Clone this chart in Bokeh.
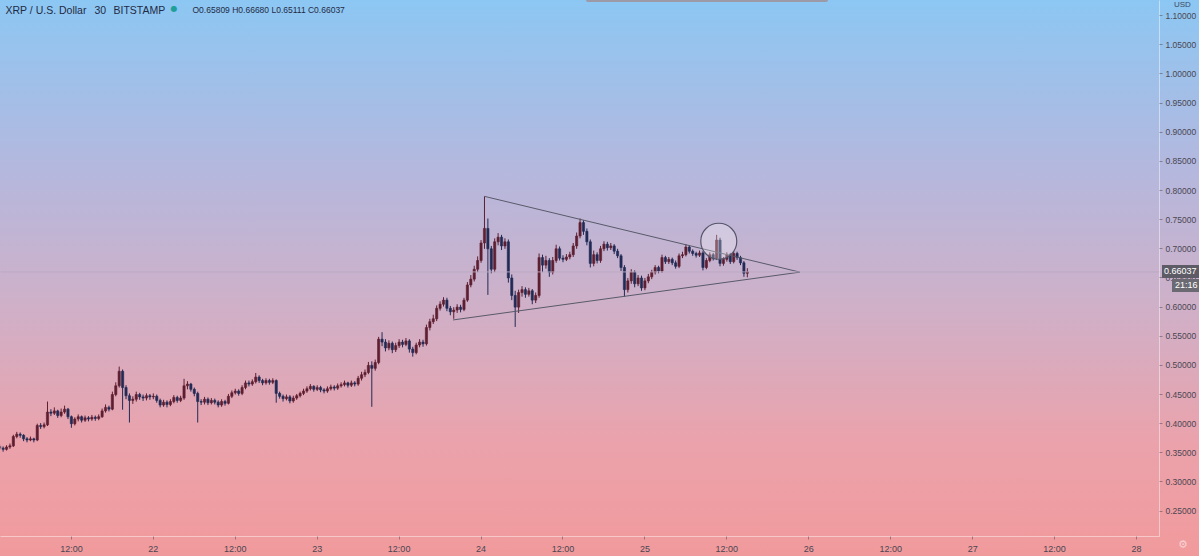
import pandas as pd
from bokeh.plotting import figure
from bokeh.models import (Range1d, FixedTicker, NumeralTickFormatter, Label, Span,
                          ColumnDataSource, GlobalInlineStyleSheet, Div)
from bokeh.embed import file_html
from bokeh.resources import INLINE

# ---------------- data (XRP/USD, Bitstamp, 30-minute bars) ----------------
first_bar = "2020-11-21 01:30"
first_open = 0.361
closes = [0.358,0.356,0.360,0.362,0.378,0.382,0.380,0.374,0.372,0.374,
          0.372,0.397,0.395,0.398,0.420,0.418,0.422,0.414,0.420,0.425,
          0.412,0.400,0.408,0.412,0.406,0.410,0.408,0.411,0.409,0.412,
          0.422,0.428,0.425,0.450,0.465,0.490,0.462,0.448,0.440,0.442,
          0.450,0.446,0.444,0.448,0.446,0.447,0.440,0.432,0.437,0.433,
          0.438,0.445,0.440,0.444,0.465,0.468,0.459,0.452,0.438,0.437,
          0.442,0.436,0.440,0.437,0.432,0.438,0.435,0.447,0.453,0.456,
          0.452,0.462,0.470,0.468,0.472,0.480,0.474,0.470,0.474,0.471,
          0.474,0.452,0.447,0.443,0.446,0.439,0.444,0.448,0.452,0.456,
          0.460,0.464,0.459,0.462,0.458,0.456,0.460,0.463,0.461,0.465,
          0.467,0.470,0.466,0.470,0.468,0.478,0.484,0.488,0.500,0.495,
          0.505,0.545,0.540,0.530,0.538,0.527,0.534,0.540,0.536,0.542,
          0.528,0.522,0.535,0.540,0.537,0.565,0.575,0.580,0.598,0.605,
          0.612,0.598,0.592,0.595,0.600,0.596,0.612,0.638,0.648,0.665,
          0.680,0.710,0.735,0.700,0.665,0.712,0.720,0.705,0.712,0.650,
          0.620,0.600,0.625,0.630,0.622,0.628,0.612,0.620,0.685,0.672,
          0.680,0.660,0.680,0.700,0.684,0.682,0.686,0.690,0.705,0.722,
          0.745,0.730,0.712,0.675,0.690,0.680,0.700,0.708,0.702,0.705,
          0.696,0.688,0.668,0.630,0.645,0.660,0.640,0.650,0.633,0.645,
          0.652,0.660,0.668,0.662,0.685,0.678,0.682,0.676,0.670,0.688,
          0.690,0.703,0.696,0.692,0.689,0.693,0.668,0.680,0.690,0.684,
          0.715,0.675,0.682,0.690,0.678,0.692,0.685,0.676,0.65809,0.66037]
highs = [0.364,0.361,0.363,0.366,0.381,0.386,0.385,0.382,0.377,0.378,
         0.376,0.400,0.401,0.402,0.438,0.425,0.428,0.424,0.426,0.431,
         0.427,0.414,0.411,0.416,0.414,0.414,0.413,0.415,0.414,0.416,
         0.426,0.433,0.431,0.455,0.471,0.498,0.493,0.466,0.452,0.447,
         0.455,0.453,0.450,0.452,0.451,0.452,0.450,0.443,0.441,0.440,
         0.442,0.449,0.448,0.448,0.477,0.473,0.470,0.462,0.455,0.442,
         0.446,0.445,0.444,0.443,0.440,0.442,0.441,0.451,0.457,0.460,
         0.459,0.466,0.474,0.474,0.476,0.487,0.483,0.477,0.478,0.477,
         0.478,0.476,0.455,0.450,0.450,0.449,0.448,0.451,0.455,0.460,
         0.464,0.468,0.466,0.466,0.465,0.461,0.464,0.467,0.466,0.469,
         0.471,0.474,0.472,0.474,0.473,0.482,0.489,0.493,0.506,0.507,
         0.510,0.549,0.557,0.545,0.543,0.541,0.539,0.545,0.544,0.547,
         0.545,0.532,0.539,0.545,0.544,0.570,0.580,0.587,0.603,0.610,
         0.617,0.616,0.602,0.600,0.605,0.604,0.616,0.643,0.655,0.671,
         0.687,0.715,0.790,0.752,0.705,0.718,0.727,0.724,0.718,0.716,
         0.656,0.628,0.630,0.636,0.634,0.633,0.631,0.625,0.692,0.690,
         0.688,0.684,0.686,0.707,0.704,0.689,0.691,0.695,0.710,0.728,
         0.752,0.749,0.735,0.716,0.697,0.694,0.705,0.713,0.712,0.710,
         0.708,0.700,0.691,0.672,0.650,0.665,0.663,0.655,0.654,0.650,
         0.657,0.664,0.672,0.671,0.690,0.688,0.686,0.685,0.680,0.692,
         0.695,0.708,0.706,0.699,0.695,0.697,0.696,0.684,0.694,0.693,
         0.724,0.719,0.686,0.694,0.693,0.696,0.695,0.688,0.679,0.6668]
lows = [0.355,0.352,0.354,0.357,0.360,0.375,0.376,0.370,0.368,0.370,
        0.368,0.370,0.391,0.392,0.396,0.413,0.415,0.410,0.411,0.417,
        0.408,0.393,0.397,0.404,0.402,0.403,0.404,0.405,0.405,0.406,
        0.410,0.419,0.421,0.423,0.447,0.462,0.424,0.442,0.402,0.434,
        0.438,0.441,0.439,0.440,0.441,0.442,0.436,0.428,0.429,0.428,
        0.430,0.435,0.436,0.437,0.441,0.459,0.455,0.447,0.402,0.432,
        0.433,0.432,0.433,0.433,0.428,0.429,0.431,0.433,0.444,0.450,
        0.448,0.449,0.459,0.464,0.465,0.469,0.470,0.466,0.467,0.467,
        0.468,0.436,0.443,0.438,0.440,0.435,0.436,0.441,0.445,0.449,
        0.453,0.457,0.455,0.456,0.454,0.452,0.453,0.457,0.457,0.458,
        0.462,0.464,0.462,0.463,0.464,0.465,0.474,0.480,0.485,0.429,
        0.491,0.502,0.533,0.524,0.526,0.521,0.523,0.530,0.531,0.533,
        0.522,0.515,0.519,0.531,0.532,0.534,0.560,0.571,0.576,0.594,
        0.601,0.593,0.586,0.580,0.590,0.591,0.593,0.609,0.634,0.644,
        0.660,0.676,0.700,0.621,0.658,0.660,0.706,0.698,0.700,0.642,
        0.612,0.566,0.590,0.618,0.616,0.618,0.605,0.607,0.616,0.660,
        0.666,0.652,0.656,0.676,0.680,0.677,0.679,0.682,0.686,0.700,
        0.718,0.724,0.706,0.668,0.670,0.675,0.676,0.696,0.697,0.698,
        0.691,0.684,0.662,0.618,0.625,0.640,0.634,0.636,0.628,0.629,
        0.641,0.648,0.656,0.658,0.659,0.674,0.674,0.672,0.666,0.667,
        0.684,0.687,0.692,0.688,0.685,0.686,0.663,0.665,0.677,0.680,
        0.681,0.670,0.671,0.678,0.674,0.675,0.681,0.672,0.652,0.65111]

last_price = 0.66037
countdown = "21:16"
ohlc_text = "O0.65809 H0.66680 L0.65111 C0.66037"

# drawn triangle (trend lines) and highlight circle
upper_line_t = ["2020-11-24 00:30", "2020-11-25 22:42"]
upper_line_p = [0.790, 0.660]
lower_line_t = ["2020-11-23 19:54", "2020-11-25 22:42"]
lower_line_p = [0.578, 0.660]
circle_t = ["2020-11-25 10:49"]
circle_p = [0.713]

price_ticks = [0.25, 0.30, 0.35, 0.40, 0.45, 0.50, 0.55, 0.60, 0.65, 0.70,
               0.75, 0.80, 0.85, 0.90, 0.95, 1.00, 1.05, 1.10]
time_tick_labels = ["12:00", "22", "12:00", "23", "12:00", "24", "12:00",
                    "25", "12:00", "26", "12:00", "27", "12:00", "28"]
time_tick_start = "2020-11-21 12:00"

view_start = "2020-11-21 01:37"
view_end = "2020-11-28 03:22"
view_low, view_high = 0.2065, 1.126


def ms(s):
    return pd.Timestamp(s).value / 1e6


# ---------------- derived table ----------------
times = pd.date_range(first_bar, periods=len(closes), freq="30min")
xs = [t.value / 1e6 for t in times]
opens = [first_open] + closes[:-1]
UP, DOWN = "#5e1f30", "#222b55"
colors = [UP if c >= o else DOWN for o, c in zip(opens, closes)]
src = ColumnDataSource(dict(
    x=xs, o=opens, h=highs, l=lows, c=closes,
    top=[max(o, c) for o, c in zip(opens, closes)],
    bot=[min(o, c) for o, c in zip(opens, closes)],
    col=colors))

tick_times = pd.date_range(time_tick_start, periods=len(time_tick_labels), freq="12h")
tick_ms = [t.value / 1e6 for t in tick_times]

p = figure(width=1199, height=556,
           x_range=Range1d(ms(view_start), ms(view_end)),
           y_range=Range1d(view_low, view_high),
           y_axis_location="right",
           output_backend="svg", toolbar_location=None,
           min_border=0, min_border_left=0, min_border_right=0,
           min_border_top=0, min_border_bottom=0)

p.stylesheets = [GlobalInlineStyleSheet(css="html,body{margin:0;padding:0;overflow:hidden;}")]
p.styles = {"background": "linear-gradient(180deg, #8cc7f3 0%, #b4b8de 30%, #cfb0c8 55%, #eba2ab 80%, #f19a9c 100%)"}
p.background_fill_alpha = 0
p.border_fill_alpha = 0
p.outline_line_color = None
p.grid.visible = False

# axes
lab_col = "#4a4652"
p.yaxis.ticker = FixedTicker(ticks=price_ticks)
p.yaxis.formatter = NumeralTickFormatter(format="0.00000")
p.yaxis.major_label_text_font = "Liberation Sans"
p.yaxis.major_label_text_font_size = "8.5px"
p.yaxis.major_label_text_color = lab_col
p.yaxis.axis_line_color = "white"
p.yaxis.axis_line_alpha = 0.45
p.yaxis.major_tick_line_color = lab_col
p.yaxis.major_tick_line_alpha = 0.5
p.yaxis.major_tick_out = 3
p.yaxis.major_tick_in = 0
p.yaxis.minor_tick_line_color = None
p.yaxis.major_label_standoff = 3

p.xaxis.ticker = FixedTicker(ticks=tick_ms)
p.xaxis.major_label_overrides = {m: lab for m, lab in zip(tick_ms, time_tick_labels)}
p.xaxis.major_label_text_font = "Liberation Sans"
p.xaxis.major_label_text_font_size = "9px"
p.xaxis.major_label_text_color = lab_col
p.xaxis.axis_line_color = "white"
p.xaxis.axis_line_alpha = 0.45
p.xaxis.major_tick_line_color = lab_col
p.xaxis.major_tick_line_alpha = 0.5
p.xaxis.major_tick_out = 3
p.xaxis.major_tick_in = 0
p.xaxis.minor_tick_line_color = None
p.xaxis.major_label_standoff = 4

# last-price line
p.add_layout(Span(location=last_price, dimension="width", line_color="#b9a7c0",
                  line_width=1, line_alpha=0.9))

# candles
p.segment(x0="x", y0="l", x1="x", y1="h", color="col", line_width=1, source=src)
p.vbar(x="x", width=30 * 60 * 1000 * 0.65, top="top", bottom="bot",
       fill_color="col", line_color="col", line_width=0.6, source=src)

# trend lines (triangle)
p.line([ms(t) for t in upper_line_t], upper_line_p, line_color="#585a6a", line_width=1)
p.line([ms(t) for t in lower_line_t], lower_line_p, line_color="#585a6a", line_width=1)

# highlight circle
p.circle(x=[ms(t) for t in circle_t], y=circle_p, radius=18, radius_units="screen",
         fill_color="white", fill_alpha=0.28, line_color="#55556a", line_width=1.2)

# header
hdr_col = "#1f2b45"
def hdr(x, text, size="10.5px", font="Liberation Sans", color=hdr_col, y=527):
    p.add_layout(Label(x=x, y=y, x_units="screen", y_units="screen", text=text,
                       text_font=font, text_font_size=size, text_color=color,
                       text_baseline="middle", level="overlay"))

hdr(5, "XRP / U.S. Dollar")
hdr(94, "30")
hdr(113, "BITSTAMP")
hdr(170, "●", size="8px", font="DejaVu Sans", color="#1f9e9a", y=528)
hdr(192, ohlc_text, size="8.5px")


# price-scale badges: small HTML elements floated over the price scale
def badge(text, left, top, extra):
    css = {"position": "absolute", "left": f"{left}px", "top": f"{top}px",
           "font-family": "Liberation Sans", "font-size": "9px", "line-height": "13px",
           "white-space": "nowrap", "z-index": "10"}
    css.update(extra)
    return Div(text=text, styles=css, margin=0)

badges = [
    badge(f"{last_price:.5f}", 1162, 265,
          {"background": "#5d5c66", "color": "white", "padding": "0 2px 0 2px"}),
    badge(countdown, 1172, 279,
          {"background": "#6b6a72", "color": "white", "padding": "0 2px 0 3px"}),
    badge("USD", 1174, 0, {"color": "#3a4a66", "font-size": "8px", "line-height": "10px"}),
    badge("⚙", 1178, 538, {"color": "rgba(255,255,255,0.55)", "font-size": "11px",
                            "font-family": "DejaVu Sans"}),
    badge("", 586, 0, {"background": "#9c9aa6", "width": "242px", "height": "2px",
                       "line-height": "2px", "border-radius": "0 0 2px 2px"}),
]

open("out.html", "w").write(file_html([p] + badges, INLINE))
